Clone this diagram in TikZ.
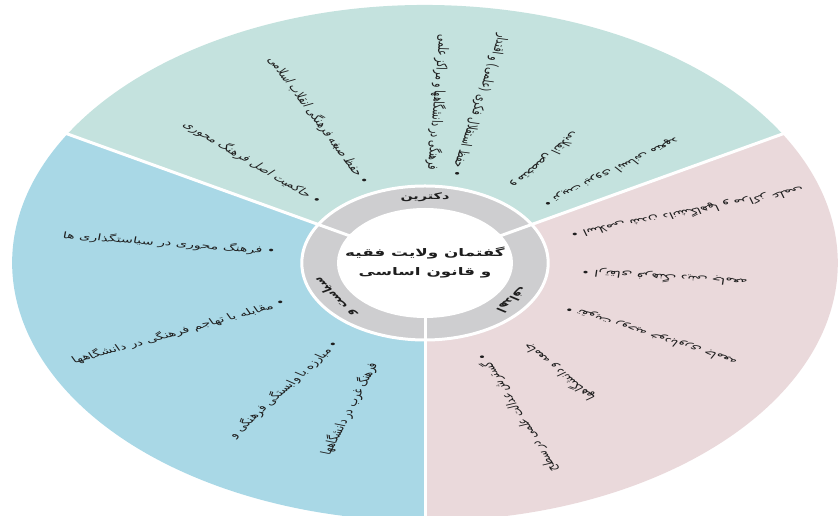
\documentclass[tikz,border=0pt]{standalone}
\usepackage{fontspec}
\newfontfamily\fa[Script=Arabic]{DejaVu Sans}
\TeXXeTstate=1
\definecolor{doctrine}{RGB}{196,226,222}
\definecolor{goal}{RGB}{234,217,219}
\definecolor{policy}{RGB}{169,216,230}
\definecolor{ringgray}{RGB}{206,206,208}
\definecolor{ink}{RGB}{30,30,30}

\begin{document}
\begin{tikzpicture}[x=1pt,y=1pt,
  item/.style={font=\fa\fontsize{9}{11}\selectfont,text=ink,inner sep=1pt,anchor=east,transform shape},
  ringlabel/.style={font=\fa\bfseries\fontsize{9}{11}\selectfont,text=ink,inner sep=0pt,transform shape},
  sep/.style={white,line width=3pt}]

\useasboundingbox (0,0) rectangle (839,516);
\begin{scope}[shift={(425,253)},xscale=1.6]

% Secteurs
\fill[doctrine] (0,0) -- (30:258) arc[start angle=30,end angle=150,radius=258] -- cycle;
\fill[goal] (0,0) -- (-90:258) arc[start angle=-90,end angle=30,radius=258] -- cycle;
\fill[policy] (0,0) -- (150:258) arc[start angle=150,end angle=270,radius=258] -- cycle;

% Anneau
\fill[ringgray,draw=white,line width=3pt] (0,0) circle (77);
\foreach \a in {30,150,270} {
  \draw[sep] (0,0) -- (\a:262);
}
\node[circle,fill=white,minimum size=110,inner sep=0pt,align=center,transform shape,
  font=\fa\bfseries\fontsize{10.5}{19}\selectfont,text=ink] (centre) at (0,0)
  {\beginR گفتمان ولایت فقیه\endR\\\beginR و قانون اساسی\endR};

\node[ringlabel] (doctrine) at (90:66) {\beginR دکترین\endR};
\node[ringlabel,rotate=-124] (goals) at (-34:66) {\beginR اهداف\endR};
\node[ringlabel,rotate=121] (policies) at (211:66) {\beginR سیاست و\endR};

% Items
\foreach \a/\r/\t [count=\i] in {
  137/89/{• حاکمیت اصل فرهنگ محوری},
  115/87/{• حفظ صبغه فرهنگی انقلاب اسلامی},
  78/88/{• حفظ استقلال فکری (علمی) و اقتدار},
  87/92/{فرهنگی در دانشگاهها و مراکز علمی},
  38/93/{• تربیت نیروی انسانی متعهد},
  54/93/{و متخصص انقلابی},
  17/94/{• اسلامی شدن دانشگاهها و مراکز علمی},
  -5.5/97/{• ارتقای فرهنگ دینی جامعه},
  -27/98/{• تقویت روحیه خودباوری جامعه},
  -69/97/{• گسترش عدالت علمی در سطح},
  -52.5/102/{جامعه و دانشگاهها},
  173/93/{• فرهنگ محوری در سیاستگذاری ها},
  204/95/{• مقابله با تهاجم فرهنگی در دانشگاهها},
  235/96/{• مبارزه با وابستگی فرهنگی و},
  252/104/{فرهنگ غرب در دانشگاهها}} {
  \node[item,rotate=\a+180] (item\i) at (\a:\r) {\beginR \t\endR};
}
\end{scope}

\end{tikzpicture}
\end{document}
